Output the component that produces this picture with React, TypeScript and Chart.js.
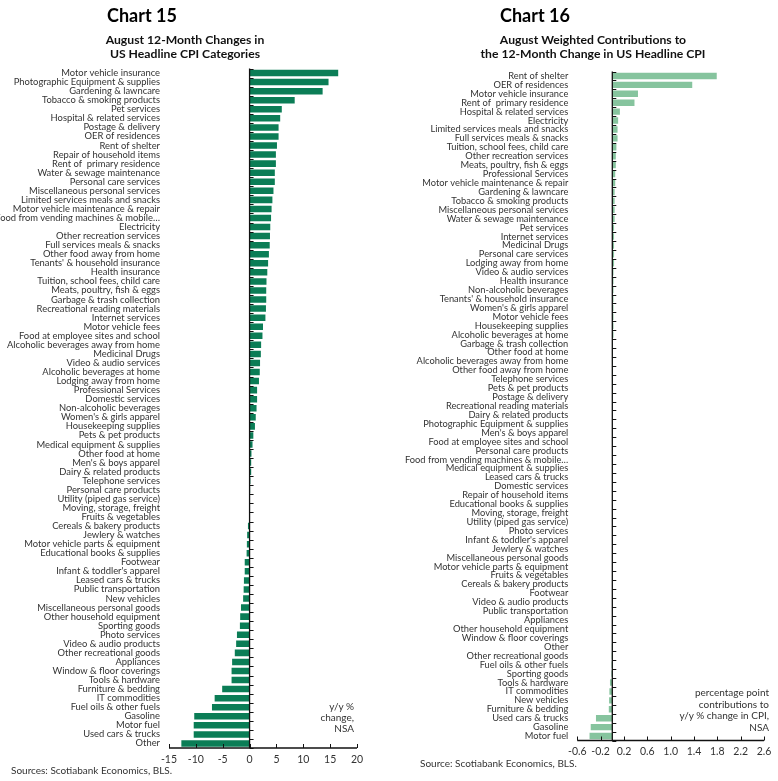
import React, { useEffect, useRef } from "react";
import { Chart, registerables } from "chart.js";

Chart.register(...registerables);

const LEFT_CATEGORIES = [
  "Motor vehicle insurance",
  "Photographic Equipment & supplies",
  "Gardening & lawncare",
  "Tobacco & smoking products",
  "Pet services",
  "Hospital & related services",
  "Postage & delivery",
  "OER of residences",
  "Rent of shelter",
  "Repair of household items",
  "Rent of  primary residence",
  "Water & sewage maintenance",
  "Personal care services",
  "Miscellaneous personal services",
  "Limited services meals and snacks",
  "Motor vehicle maintenance & repair",
  "Food from vending machines & mobile…",
  "Electricity",
  "Other recreation services",
  "Full services meals & snacks",
  "Other food away from home",
  "Tenants' & household insurance",
  "Health insurance",
  "Tuition, school fees, child care",
  "Meats, poultry, fish & eggs",
  "Garbage & trash collection",
  "Recreational reading materials",
  "Internet services",
  "Motor vehicle fees",
  "Food at employee sites and school",
  "Alcoholic beverages away from home",
  "Medicinal Drugs",
  "Video & audio services",
  "Alcoholic beverages at home",
  "Lodging away from home",
  "Professional Services",
  "Domestic services",
  "Non-alcoholic beverages",
  "Women's & girls apparel",
  "Housekeeping supplies",
  "Pets & pet products",
  "Medical equipment & supplies",
  "Other food at home",
  "Men's & boys apparel",
  "Dairy & related products",
  "Telephone services",
  "Personal care products",
  "Utility (piped gas service)",
  "Moving, storage, freight",
  "Fruits & vegetables",
  "Cereals & bakery products",
  "Jewlery & watches",
  "Motor vehicle parts & equipment",
  "Educational books & supplies",
  "Footwear",
  "Infant & toddler's apparel",
  "Leased cars & trucks",
  "Public transportation",
  "New vehicles",
  "Miscellaneous personal goods",
  "Other household equipment",
  "Sporting goods",
  "Photo services",
  "Video & audio products",
  "Other recreational goods",
  "Appliances",
  "Window & floor coverings",
  "Tools & hardware",
  "Furniture & bedding",
  "IT commodities",
  "Fuel oils & other fuels",
  "Gasoline",
  "Motor fuel",
  "Used cars & trucks",
  "Other",
];

const LEFT_VALUES = [
  16.5, 14.7, 13.6, 8.4, 6.0, 5.7, 5.4, 5.4, 5.1, 4.9,
  4.9, 4.7, 4.7, 4.45, 4.25, 4.1, 4.0, 3.85, 3.8, 3.75,
  3.6, 3.45, 3.3, 3.15, 3.1, 3.1, 3.05, 2.95, 2.5, 2.4,
  2.15, 2.1, 1.95, 1.9, 1.75, 1.4, 1.4, 1.3, 1.15, 1.0,
  0.7, 0.55, 0.35, 0.3, 0.3, 0.15, 0.1, 0.05, 0.02, -0.1,
  -0.3, -0.45, -0.5, -0.55, -0.9, -0.9, -1.05, -1.1, -1.2, -1.6,
  -1.75, -1.8, -2.35, -2.5, -2.75, -3.25, -3.35, -3.35, -5.1, -6.5,
  -7.0, -10.3, -10.4, -10.4, -12.7,
];

const RIGHT_CATEGORIES = [
  "Rent of shelter",
  "OER of residences",
  "Motor vehicle insurance",
  "Rent of  primary residence",
  "Hospital & related services",
  "Electricity",
  "Limited services meals and snacks",
  "Full services meals & snacks",
  "Tuition, school fees, child care",
  "Other recreation services",
  "Meats, poultry, fish & eggs",
  "Professional Services",
  "Motor vehicle maintenance & repair",
  "Gardening & lawncare",
  "Tobacco & smoking products",
  "Miscellaneous personal services",
  "Water & sewage maintenance",
  "Pet services",
  "Internet services",
  "Medicinal Drugs",
  "Personal care services",
  "Lodging away from home",
  "Video & audio services",
  "Health insurance",
  "Non-alcoholic beverages",
  "Tenants' & household insurance",
  "Women's & girls apparel",
  "Motor vehicle fees",
  "Housekeeping supplies",
  "Alcoholic beverages at home",
  "Garbage & trash collection",
  "Other food at home",
  "Alcoholic beverages away from home",
  "Other food away from home",
  "Telephone services",
  "Pets & pet products",
  "Postage & delivery",
  "Recreational reading materials",
  "Dairy & related products",
  "Photographic Equipment & supplies",
  "Men's & boys apparel",
  "Food at employee sites and school",
  "Personal care products",
  "Food from vending machines & mobile…",
  "Medical equipment & supplies",
  "Leased cars & trucks",
  "Domestic services",
  "Repair of household items",
  "Educational books & supplies",
  "Moving, storage, freight",
  "Utility (piped gas service)",
  "Photo services",
  "Infant & toddler's apparel",
  "Jewlery & watches",
  "Miscellaneous personal goods",
  "Motor vehicle parts & equipment",
  "Fruits & vegetables",
  "Cereals & bakery products",
  "Footwear",
  "Video & audio products",
  "Public transportation",
  "Appliances",
  "Other household equipment",
  "Window & floor coverings",
  "Other",
  "Other recreational goods",
  "Fuel oils & other fuels",
  "Sporting goods",
  "Tools & hardware",
  "IT commodities",
  "New vehicles",
  "Furniture & bedding",
  "Used cars & trucks",
  "Gasoline",
  "Motor fuel",
];

const RIGHT_VALUES = [
  1.79, 1.37, 0.44, 0.38, 0.13, 0.1, 0.09, 0.09, 0.07, 0.06,
  0.06, 0.05, 0.05, 0.04, 0.04, 0.04, 0.04, 0.03, 0.03, 0.03,
  0.03, 0.03, 0.02, 0.02, 0.02, 0.02, 0.02, 0.02, 0.02, 0.02,
  0.01, 0.01, 0.01, 0.01, 0.01, 0.01, 0.01, 0.01, 0.005, 0.005,
  0.005, 0.005, 0.003, 0.003, 0.002, 0.002, 0.002, 0.001, 0.001, 0.001,
  0.0, 0.0, -0.001, -0.001, -0.002, -0.002, -0.002, -0.003, -0.003, -0.004,
  -0.004, -0.005, -0.005, -0.006, -0.008, -0.01, -0.012, -0.015, -0.04, -0.05,
  -0.055, -0.06, -0.28, -0.37, -0.39,
];

const LEFT_TICKS = [-15, -10, -5, 0, 5, 10, 15, 20];
const RIGHT_TICKS = [-0.6, -0.2, 0.2, 0.6, 1.0, 1.4, 1.8, 2.2, 2.6];

const FONT = "Lato, 'Noto Sans', sans-serif";
const TEXT = "#333";

const axisDecor = {
  id: "axisDecor",
  afterDatasetsDraw(chart: any) {
    const { ctx, chartArea } = chart;
    const x = chart.scales.x;
    const y = chart.scales.y;
    const x0 = x.getPixelForValue(0);
    const n = chart.data.labels.length;
    const band = n > 1 ? y.getPixelForValue(1) - y.getPixelForValue(0) : chartArea.bottom - chartArea.top;
    ctx.save();
    ctx.strokeStyle = "#111";
    ctx.lineWidth = 1.3;
    ctx.beginPath();
    ctx.moveTo(x0, chartArea.top);
    ctx.lineTo(x0, chartArea.bottom);
    ctx.stroke();
    ctx.lineWidth = 1;
    ctx.beginPath();
    for (let i = 0; i <= n; i++) {
      const py = Math.round(y.getPixelForValue(0) - band / 2 + i * band) + 0.5;
      ctx.moveTo(x0, py);
      ctx.lineTo(x0 + 4, py);
    }
    ctx.stroke();
    ctx.lineWidth = 1.3;
    ctx.beginPath();
    ctx.moveTo(chartArea.left, chartArea.bottom);
    ctx.lineTo(chartArea.right, chartArea.bottom);
    ctx.stroke();
    ctx.lineWidth = 1;
    ctx.beginPath();
    x.ticks.forEach((t: any) => {
      const px = Math.round(x.getPixelForValue(t.value)) + 0.5;
      ctx.moveTo(px, chartArea.bottom);
      ctx.lineTo(px, chartArea.bottom - 4);
    });
    ctx.stroke();
    ctx.restore();
  },
};

function makeChart(
  canvas: HTMLCanvasElement,
  labels: string[],
  values: number[],
  color: string,
  ticks: number[],
  min: number,
  max: number,
  yWidth: number,
  xHeight: number,
  padTop: number,
  padRight: number,
  decimals: number,
  labelSize: number
) {
  return new Chart(canvas, {
    type: "bar",
    data: {
      labels,
      datasets: [
        {
          data: values,
          backgroundColor: color,
          borderWidth: 0,
          categoryPercentage: 1,
          barPercentage: 0.72,
        },
      ],
    },
    options: {
      indexAxis: "y",
      animation: false,
      responsive: false,
      maintainAspectRatio: false,
      layout: { padding: { top: padTop, right: padRight, left: 0, bottom: 0 } },
      plugins: { legend: { display: false }, tooltip: { enabled: false } },
      scales: {
        x: {
          type: "linear",
          min,
          max,
          grid: { display: false, drawTicks: false },
          border: { display: false },
          afterBuildTicks: (scale: any) => {
            scale.ticks = ticks.map((v) => ({ value: v }));
          },
          afterFit: (scale: any) => {
            scale.height = xHeight;
            scale.paddingLeft = 0;
            scale.paddingRight = 0;
          },
          ticks: {
            autoSkip: false,
            maxRotation: 0,
            padding: 5,
            color: TEXT,
            font: { family: FONT, size: 10.5 },
            callback: (v: any) => (decimals > 0 ? Number(v).toFixed(decimals) : String(v)),
          },
        },
        y: {
          type: "category",
          grid: { display: false, drawTicks: false },
          border: { display: false },
          afterFit: (scale: any) => {
            scale.width = yWidth;
            scale.paddingTop = 0;
            scale.paddingBottom = 0;
          },
          ticks: {
            autoSkip: false,
            padding: 9,
            color: TEXT,
            font: { family: FONT, size: labelSize },
          },
        },
      },
    },
    plugins: [axisDecor],
  } as any);
}

function ChartCanvas(props: {
  left: number;
  width: number;
  build: (c: HTMLCanvasElement) => Chart;
}) {
  const ref = useRef<HTMLCanvasElement | null>(null);
  useEffect(() => {
    if (!ref.current) return;
    const ch = props.build(ref.current);
    return () => ch.destroy();
  }, []);
  return (
    <canvas
      ref={ref}
      width={props.width}
      height={781}
      style={{ position: "absolute", left: props.left, top: 0, width: props.width, height: 781 }}
    />
  );
}

const abs = (style: any) => ({ position: "absolute" as const, fontFamily: FONT, color: TEXT, ...style });

export default function App() {
  return (
    <div style={{ position: "absolute", left: 0, top: 0, width: 778, height: 781, background: "#fff", overflow: "hidden" }}>
      <ChartCanvas
        left={0}
        width={390}
        build={(c) =>
          makeChart(c, LEFT_CATEGORIES, LEFT_VALUES, "#0b7d56", LEFT_TICKS, -15, 20, 169, 33, 68.5, 33, 0, 9.4)
        }
      />
      <ChartCanvas
        left={390}
        width={388}
        build={(c) =>
          makeChart(c, RIGHT_CATEGORIES, RIGHT_VALUES, "#86c49e", RIGHT_TICKS, -0.6, 2.6, 187.3, 40.5, 71.5, 14, 1, 9.3)
        }
      />
      <div style={abs({ left: 107, top: 4, fontSize: 18, fontWeight: 700, color: "#000", whiteSpace: "nowrap" })}>Chart 15</div>
      <div style={abs({ left: 85, width: 200, top: 33, fontSize: 12.2, fontWeight: 700, color: "#111", textAlign: "center", lineHeight: "14px" })}>
        August 12-Month Changes in
        <br />
        US Headline CPI Categories
      </div>
      <div style={abs({ left: 500, top: 4, fontSize: 18, fontWeight: 700, color: "#000", whiteSpace: "nowrap" })}>Chart 16</div>
      <div style={abs({ left: 453, width: 280, top: 33, fontSize: 12.2, fontWeight: 700, color: "#111", textAlign: "center", lineHeight: "14px" })}>
        August Weighted Contributions to
        <br />
        the 12-Month Change in US Headline CPI
      </div>
      <div style={abs({ right: 778 - 354, top: 701, fontSize: 10, textAlign: "right", lineHeight: "11px", whiteSpace: "nowrap" })}>
        y/y %
        <br />
        change,
        <br />
        NSA
      </div>
      <div style={abs({ right: 778 - 769, top: 687, fontSize: 10, textAlign: "right", lineHeight: "11.5px", whiteSpace: "nowrap" })}>
        percentage point
        <br />
        contributions to
        <br />
        y/y % change in CPI,
        <br />
        NSA
      </div>
      <div style={abs({ left: 11, top: 764, fontSize: 10, whiteSpace: "nowrap" })}>Sources: Scotiabank Economics, BLS.</div>
      <div style={abs({ left: 420, top: 757, fontSize: 10, whiteSpace: "nowrap" })}>Source: Scotiabank Economics, BLS.</div>
    </div>
  );
}
